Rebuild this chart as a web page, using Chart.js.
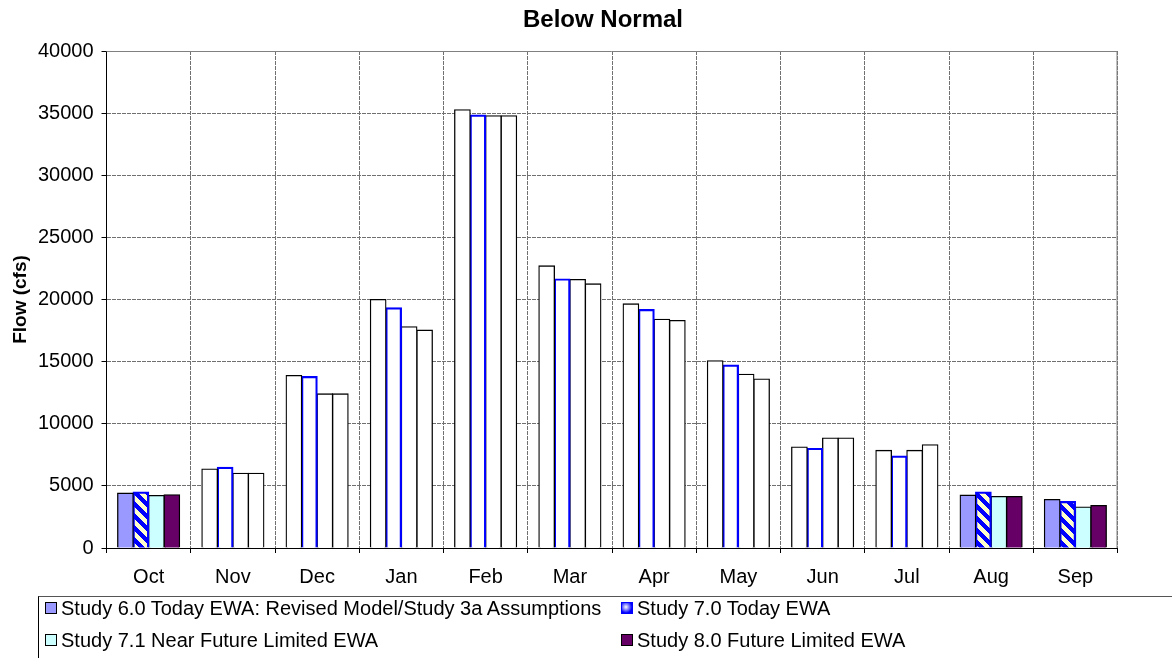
<!DOCTYPE html>
<html>
<head>
<meta charset="utf-8">
<title>Below Normal</title>
<script src="https://cdn.jsdelivr.net/npm/chart.js@4.4.1/dist/chart.umd.min.js"></script>
<style>
  body { margin: 0; background: #fff; font-family: "Liberation Sans", Arial, sans-serif; }
  #wrap { position: relative; width: 1172px; height: 658px; overflow: hidden; }
  #legend { position: absolute; left: 38px; top: 596px; width: 1140px; height: 70px;
            border-left: 1px solid #000; border-top: 1px solid #555; box-sizing: border-box; }
  .item { position: absolute; font-size: 20px; color: #000; white-space: nowrap; line-height: 22px; }
  .box { position: absolute; left: -16px; top: 5px; width: 10px; height: 10px; border: 1px solid #000; box-sizing: content-box; }
</style>
</head>
<body>
<div id="wrap">
  <canvas id="flowChart" width="1172" height="658"></canvas>
  <div id="legend"></div>
</div>
<script>
// Données du graphique
const months = ['Oct', 'Nov', 'Dec', 'Jan', 'Feb', 'Mar', 'Apr', 'May', 'Jun', 'Jul', 'Aug', 'Sep'];
const seriesNames = [
    'Study 6.0 Today EWA: Revised Model/Study 3a Assumptions',
    'Study 7.0 Today EWA',
    'Study 7.1 Near Future Limited EWA',
    'Study 8.0 Future Limited EWA'
];
const study60 = [4410, 6360, 13870, 20000, 35260, 22700, 19640, 15070, 8120, 7850, 4250, 3900];
const study70 = [4490, 6490, 13790, 19330, 34840, 21650, 19180, 14720, 8010, 7400, 4490, 3740];
const study71 = [4220, 6010, 12400, 17800, 34790, 21600, 18400, 13970, 8850, 7850, 4140, 3290];
const study80 = [4280, 6010, 12400, 17530, 34790, 21250, 18300, 13600, 8850, 8310, 4140, 3420];
const yTicks = [0, 5000, 10000, 15000, 20000, 25000, 30000, 35000, 40000];

// Mois remplis en couleur (les autres sont blancs)
const filledMonths = ['Oct', 'Aug', 'Sep'];

const FONT = '"Liberation Sans", Arial, sans-serif';

// Motif hachuré bleu / jaune pour Study 7.0
function makeStripes() {
    const n = 12;
    const c = document.createElement('canvas');
    c.width = n; c.height = n;
    const g = c.getContext('2d');
    const img = g.createImageData(n, n);
    for (let y = 0; y < n; y++) {
        for (let x = 0; x < n; x++) {
            const i = (y * n + x) * 4;
            const blue = ((x - y + 2 * n) % n) < 6;
            img.data[i] = blue ? 0 : 255;
            img.data[i + 1] = blue ? 0 : 255;
            img.data[i + 2] = blue ? 255 : 204;
            img.data[i + 3] = 255;
        }
    }
    g.putImageData(img, 0, 0);
    return g.createPattern(c, 'repeat');
}

document.addEventListener('DOMContentLoaded', () => {
    const ctx = document.getElementById('flowChart').getContext('2d');
    const stripes = makeStripes();
    const pick = (color) => months.map(m => filledMonths.includes(m) ? color : '#FFFFFF');

    // Titre et bordure de la zone de tracé
    const decor = {
        id: 'decor',
        afterDraw(chart) {
            const c = chart.ctx, a = chart.chartArea;
            c.save();
            c.strokeStyle = '#808080';
            c.lineWidth = 1;
            c.beginPath();
            c.moveTo(a.left, a.top + 0.5);
            c.lineTo(a.right - 0.5, a.top + 0.5);
            c.lineTo(a.right - 0.5, a.bottom);
            c.stroke();
            c.fillStyle = '#000';
            c.font = 'bold 24px ' + FONT;
            c.textAlign = 'center';
            c.textBaseline = 'middle';
            c.fillText('Below Normal', 603, 20);
            c.restore();
        }
    };

    new Chart(ctx, {
        type: 'bar',
        data: {
            labels: months,
            datasets: [
                { label: seriesNames[0], data: study60, backgroundColor: pick('#9999FF'), borderColor: '#000', borderWidth: 1.3 },
                { label: seriesNames[1], data: study70, backgroundColor: months.map(m => filledMonths.includes(m) ? stripes : '#FFFFFF'), borderColor: '#0000FF', borderWidth: 2.2 },
                { label: seriesNames[2], data: study71, backgroundColor: pick('#CCFFFF'), borderColor: '#000', borderWidth: 1.3 },
                { label: seriesNames[3], data: study80, backgroundColor: pick('#660066'), borderColor: '#000', borderWidth: 1.3 }
            ]
        },
        options: {
            responsive: false,
            animation: false,
            devicePixelRatio: 1,
            layout: { padding: { left: 0, right: 54.5, top: 51, bottom: 70 } },
            datasets: { bar: { categoryPercentage: 0.735, barPercentage: 1, inflateAmount: 0.6 } },
            plugins: { legend: { display: false }, title: { display: false }, tooltip: { enabled: false } },
            scales: {
                x: {
                    grid: { offset: true, color: '#707070', lineWidth: 1, tickLength: 5, tickColor: '#000' },
                    border: { color: '#000', width: 1, dash: [4, 1] },
                    ticks: { color: '#000', font: { family: FONT, size: 20 }, padding: 12, maxRotation: 0 },
                    afterFit(scale) { scale.height = 40; }
                },
                y: {
                    min: 0, max: 40000,
                    afterBuildTicks(scale) { scale.ticks = yTicks.map(v => ({ value: v })); },
                    grid: { color: '#707070', lineWidth: 1, tickLength: 5, tickColor: '#000' },
                    border: { color: '#000', width: 1, dash: [4, 1] },
                    ticks: { color: '#000', font: { family: FONT, size: 20 }, padding: 8, callback: v => String(v) },
                    title: { display: true, text: 'Flow (cfs)', color: '#000', font: { family: FONT, size: 19, weight: 'bold' }, padding: { top: 9, bottom: 0 } },
                    afterFit(scale) { scale.width = 106.5; }
                }
            }
        },
        plugins: [decor]
    });

    // Légende en deux colonnes
    const legend = document.getElementById('legend');
    const swatches = [
        'background:#9999FF',
        'background:radial-gradient(circle at 40% 40%,#FFFFFF 0,#8080FF 35%,#0000FF 70%);border-color:#0000FF',
        'background:#CCFFFF',
        'background:#660066'
    ];
    const spots = [[22, 0], [598, 0], [22, 32], [598, 32]];
    seriesNames.forEach((name, i) => {
        const el = document.createElement('div');
        el.className = 'item';
        el.style.left = spots[i][0] + 'px';
        el.style.top = spots[i][1] + 'px';
        el.innerHTML = '<span class="box" style="' + swatches[i] + '"></span>' + name;
        legend.appendChild(el);
    });
});
</script>
</body>
</html>
